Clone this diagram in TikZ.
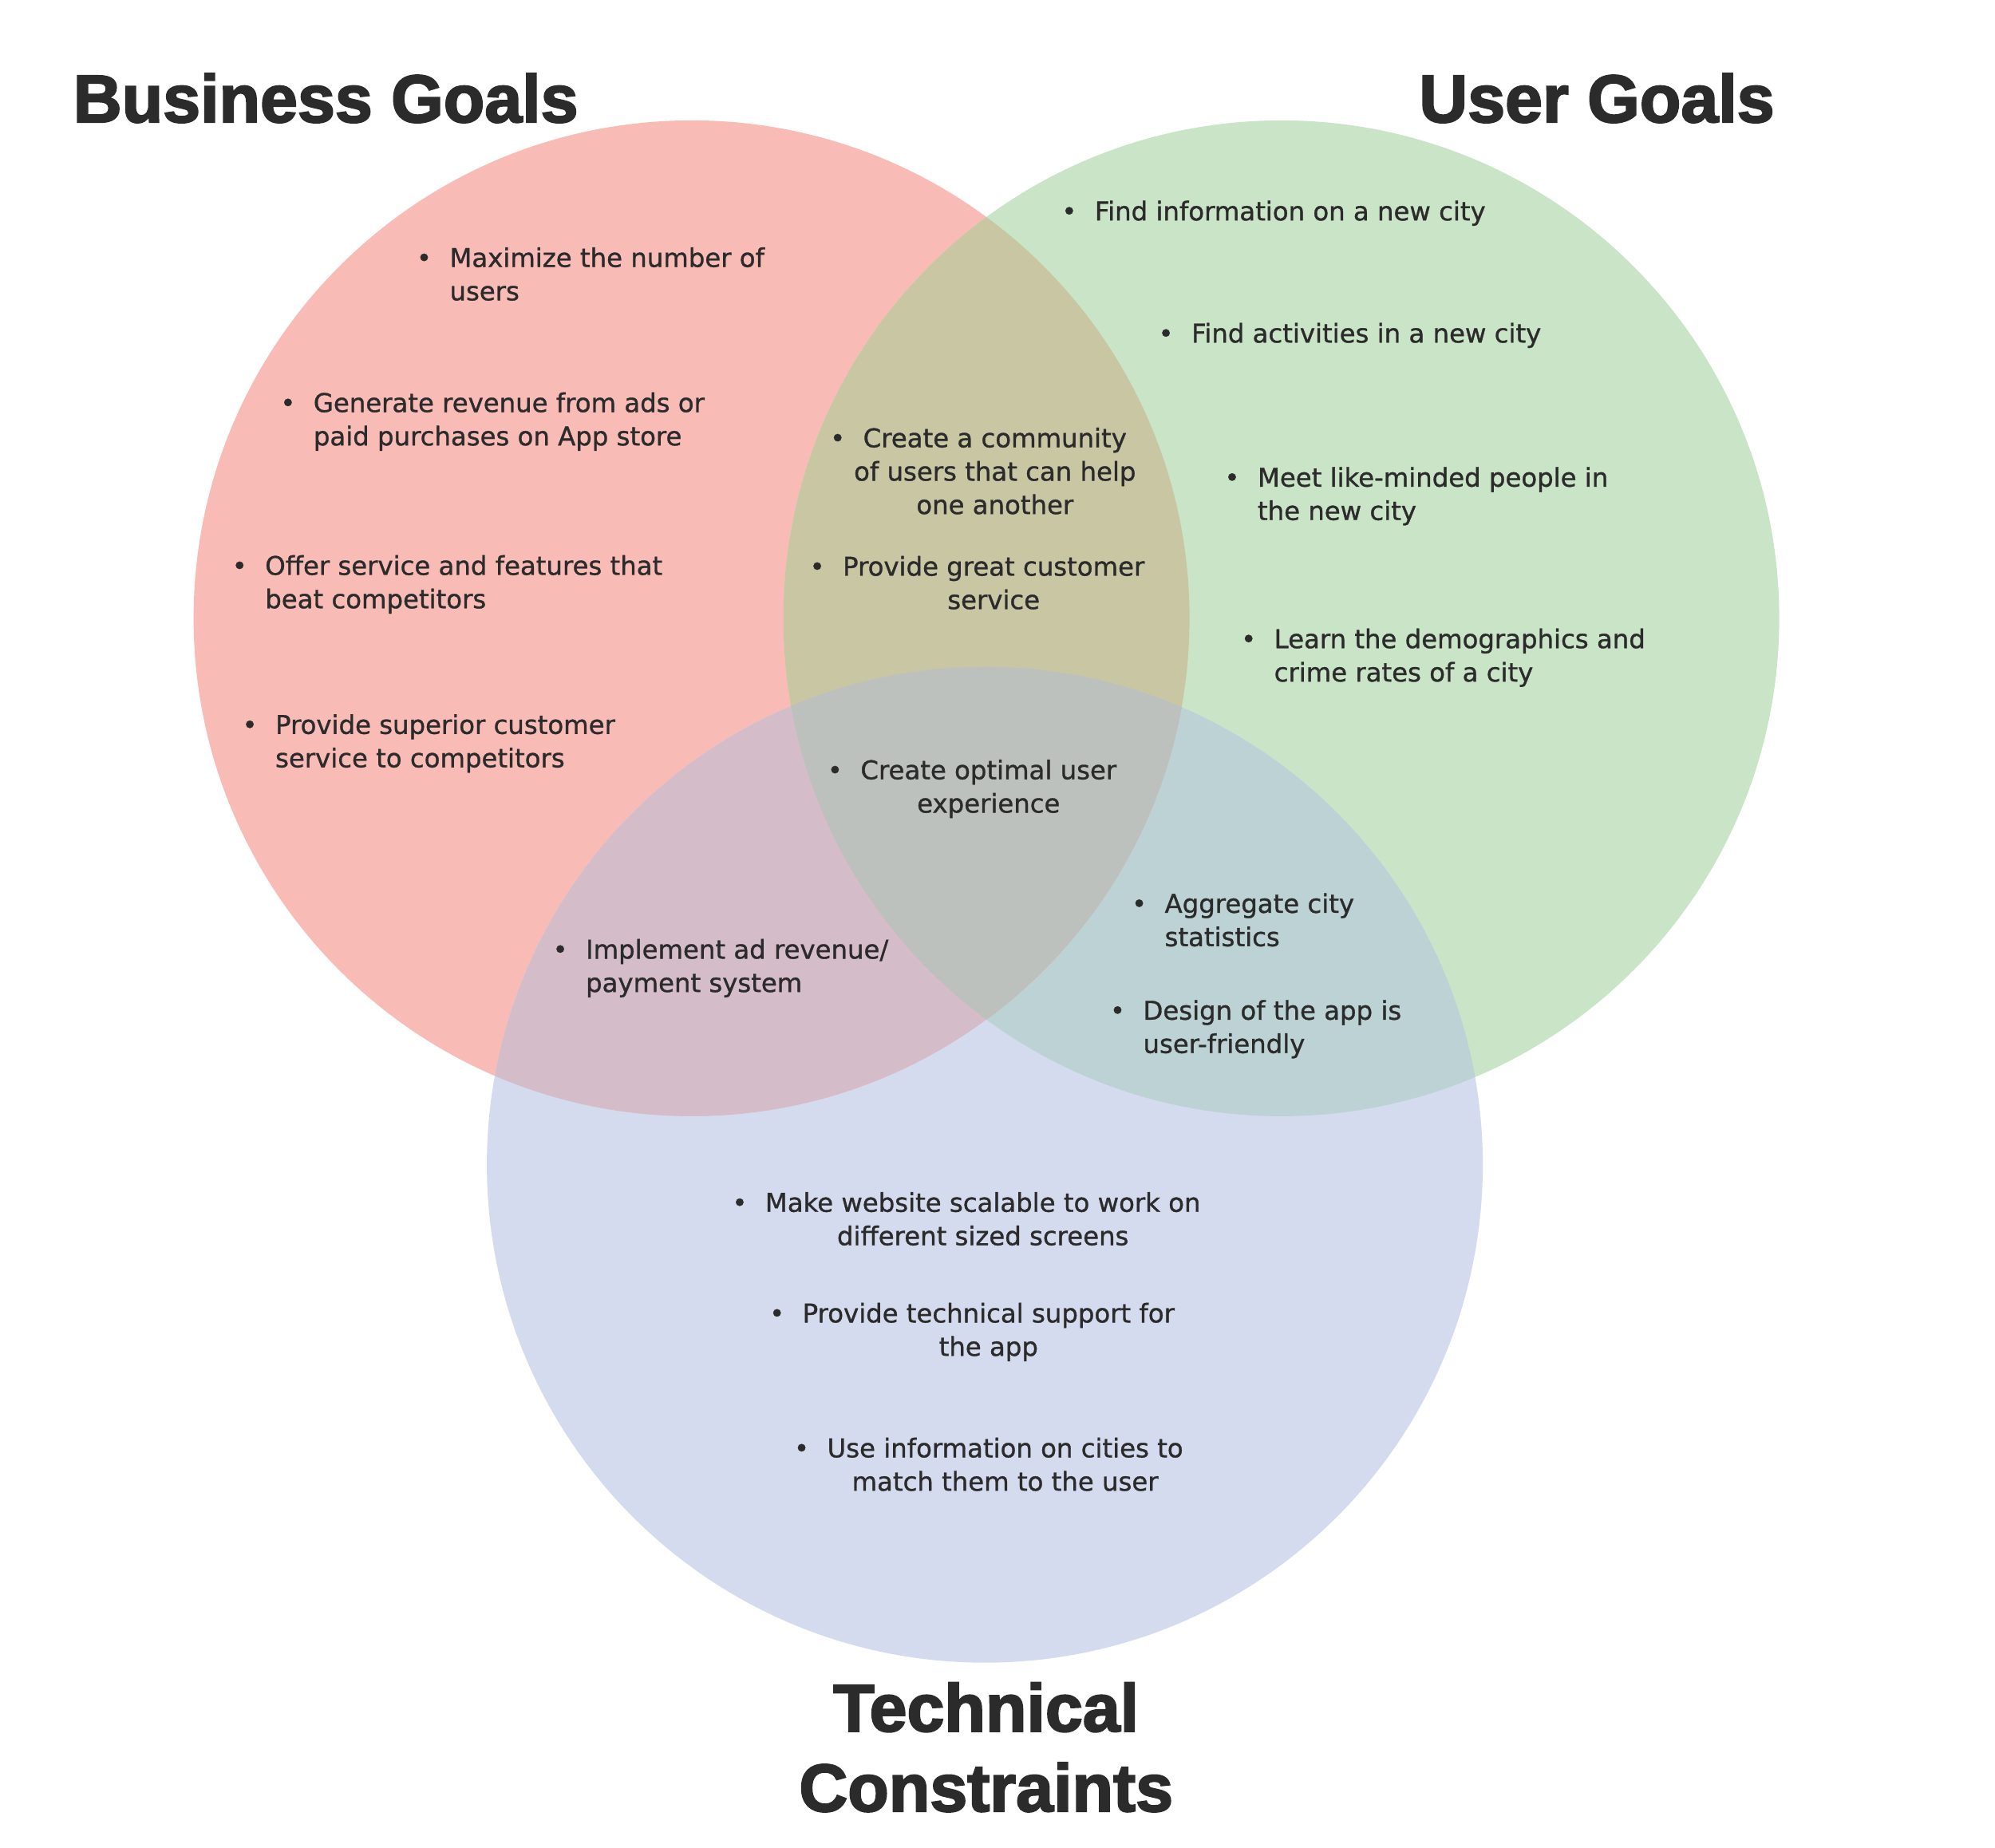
\documentclass[tikz,border=0pt]{standalone}
\usepackage{fontspec}
\setmainfont{DejaVu Sans}[FakeBold=1]
\newfontfamily\headfont{Liberation Sans Bold}[FakeBold=2.5]
\usepackage{tikz}

\definecolor{ink}{HTML}{2B2B2B}
\definecolor{bizfill}{HTML}{F9BBB6}
\definecolor{usrfill}{HTML}{C9E4C6}
\definecolor{tecfill}{HTML}{D5DBEE}
\definecolor{bizusr}{HTML}{C9C6A4}
\definecolor{biztec}{HTML}{D5BCC9}
\definecolor{usrtec}{HTML}{BCD2D4}
\definecolor{allthree}{HTML}{BDC1BE}

\newcommand{\bul}{\llap{\textbullet\hspace{6.4pt}}}

\begin{document}
\begin{tikzpicture}[
	item/.style={inner sep=0pt, align=left, anchor=base west, text=ink, font=\fontsize{9.2}{11.9}\selectfont},
	citem/.style={item, align=center, anchor=base},
	heading/.style={inner sep=0pt, align=center, anchor=base, text=ink, font=\headfont\fontsize{24}{28.5}\selectfont}]
		\useasboundingbox (0,0) rectangle (25,-23.16);
		\coordinate (biz) at (8.666,-7.749);
		\coordinate (usr) at (16.056,-7.749);
		\coordinate (tec) at (12.341,-14.597);
		% circles
		\fill[bizfill] (biz) circle (6.24);
		\fill[usrfill] (usr) circle (6.24);
		\fill[tecfill] (tec) circle (6.24);
		% overlaps
		\begin{scope}
			\clip (usr) circle (6.24);
			\fill[usrtec] (tec) circle (6.24);
		\end{scope}
		\begin{scope}
			\clip (biz) circle (6.24);
			\fill[bizusr] (usr) circle (6.24);
			\fill[biztec] (tec) circle (6.24);
			\clip (usr) circle (6.24);
			\fill[allthree] (tec) circle (6.24);
		\end{scope}
		% headings (base = last line)
		\node[heading] (bizhead) at (4.082,-1.531) {Business Goals};
		\node[heading] (usrhead) at (20.01,-1.531) {User Goals};
		\node[heading] (techead) at (12.357,-22.70) {Technical\\Constraints};
		% business goals
		\node[item] (maxusers) at (5.628,-3.764) {\bul Maximize the number of\\users};
		\node[item] (revenue) at (3.922,-5.582) {\bul Generate revenue from ads or\\paid purchases on App store};
		\node[item] (features) at (3.316,-7.623) {\bul Offer service and features that\\beat competitors};
		\node[item] (superior) at (3.444,-9.616) {\bul Provide superior customer\\service to competitors};
		% user goals
		\node[item] (findinfo) at (13.712,-2.762) {\bul Find information on a new city};
		\node[item] (findact) at (14.924,-4.293) {\bul Find activities in a new city};
		\node[item] (meet) at (15.753,-6.517) {\bul Meet like-minded people in\\the new city};
		\node[item] (demog) at (15.960,-8.541) {\bul Learn the demographics and\\crime rates of a city};
		% business and user
		\node[citem] (community) at (12.468,-6.442) {\bul Create a community\\of users that can help\\one another};
		\node[citem] (greatserv) at (12.452,-7.633) {\bul Provide great customer\\service};
		% all three
		\node[citem] (optimal) at (12.388,-10.184) {\bul Create optimal user\\experience};
		% user and technical
		\node[item] (aggregate) at (14.589,-11.858) {\bul Aggregate city\\statistics};
		\node[item] (design) at (14.318,-13.197) {\bul Design of the app is\\user-friendly};
		% business and technical
		\node[item] (adpay) at (7.334,-12.432) {\bul Implement ad revenue/\\payment system};
		% technical constraints
		\node[citem] (scalable) at (12.317,-15.605) {\bul Make website scalable to work on\\different sized screens};
		\node[citem] (support) at (12.388,-16.992) {\bul Provide technical support for\\the app};
		\node[citem] (matchcity) at (12.596,-18.682) {\bul Use information on cities to\\match them to the user};
	\end{tikzpicture}
\end{document}
